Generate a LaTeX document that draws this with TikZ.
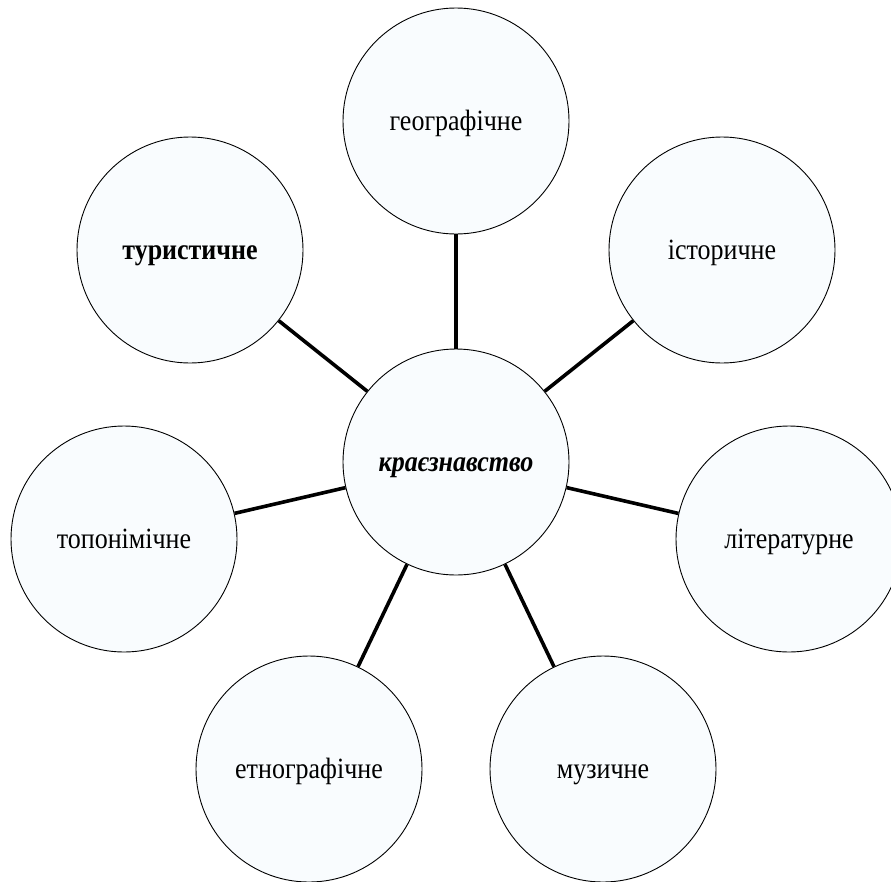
\documentclass[tikz,border=0pt]{standalone}
\usepackage{fontspec}
\usepackage{graphicx}
\setmainfont{Liberation Serif}
\definecolor{bubblefill}{HTML}{F9FCFE}
\newcommand{\tallt}[1]{\scalebox{1}[1.13]{#1}}
\begin{document}
\begin{tikzpicture}[x=1pt,y=-1pt,
  bubble/.style={circle,draw=black,line width=0.9pt,fill=bubblefill,minimum size=226pt,inner sep=0pt,text height=19pt,text depth=0pt,font=\fontsize{26}{29}\selectfont},
  link/.style={line width=3.6pt,black}]
\useasboundingbox (0,0) rectangle (891,881);
\node[bubble] (c) at (456,462) {\tallt{\textbf{\textit{краєзнавство}}}};
\node[bubble] (geo) at (456,121) {\tallt{географічне}};
\node[bubble] (tur) at (190,250) {\tallt{\textbf{туристичне}}};
\node[bubble] (ist) at (722,250) {\tallt{історичне}};
\node[bubble] (top) at (124,539) {\tallt{топонімічне}};
\node[bubble] (lit) at (789,539) {\tallt{літературне}};
\node[bubble] (etn) at (309,769) {\tallt{етнографічне}};
\node[bubble] (muz) at (603,769) {\tallt{музичне}};
\foreach \n in {geo,tur,ist,top,lit,etn,muz}{\draw[link] (c) -- (\n);}
\end{tikzpicture}
\end{document}
